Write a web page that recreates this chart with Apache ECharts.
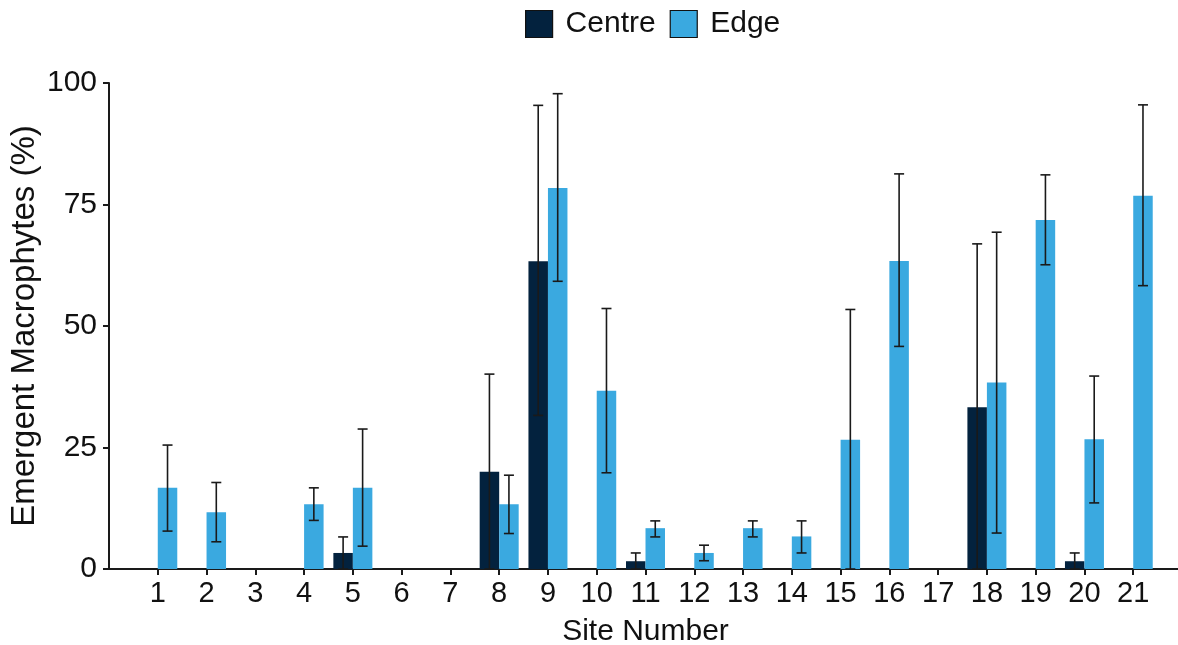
<!DOCTYPE html>
<html>
<head>
<meta charset="utf-8">
<title>Emergent Macrophytes by Site</title>
<script src="https://cdn.jsdelivr.net/npm/echarts@6/dist/echarts.min.js"></script>
<style>
  html, body { margin: 0; padding: 0; background: #ffffff; overflow: hidden; }
  #chart { width: 1178px; height: 645px; }
</style>
</head>
<body>
<div id="chart"></div>
<script>
// Site numbers along the x axis
const sites = ['1','2','3','4','5','6','7','8','9','10','11','12','13','14','15','16','17','18','19','20','21'];

// Mean cover (%) per site
const centreMean = [0, 0, 0, 0, 3.3, 0, 0, 20.0, 63.3, 0, 1.6, 0, 0, 0, 0, 0, 0, 33.3, 0, 1.6, 0];
const edgeMean   = [16.7, 11.7, 0, 13.3, 16.7, 0, 0, 13.3, 78.4, 36.7, 8.4, 3.3, 8.4, 6.7, 26.6, 63.4, 0, 38.4, 71.8, 26.7, 76.8];

// Error bar limits (null where no bar is drawn)
const centreLow  = [null, null, null, null, 0, null, null, 0, 31.6, null, 0, null, null, null, null, null, null, 0, null, 0, null];
const centreHigh = [null, null, null, null, 6.6, null, null, 40.1, 95.4, null, 3.3, null, null, null, null, null, null, 66.9, null, 3.3, null];
const edgeLow    = [7.8, 5.6, null, 10.0, 4.7, null, null, 7.3, 59.2, 19.8, 6.6, 1.7, 6.6, 3.3, 0, 45.8, null, 7.4, 62.6, 13.6, 58.3];
const edgeHigh   = [25.5, 17.8, null, 16.7, 28.8, null, null, 19.3, 97.8, 53.6, 9.9, 4.9, 9.9, 9.9, 53.4, 81.3, null, 69.3, 81.1, 39.7, 95.5];

// y axis ticks
const yMin = 0, yMax = 100, yStep = 25;

const categories = [''].concat(sites, ['']);
const BAR_W = 19.5;
const CAP_W = 10;

function errorData(low, high) {
  const out = [];
  sites.forEach((s, i) => {
    if (low[i] !== null && high[i] !== null) out.push([s, low[i], high[i]]);
  });
  return out;
}

function errorRenderer(shift) {
  return function (params, api) {
    const cat = api.value(0);
    const lo = api.coord([cat, api.value(1)]);
    const hi = api.coord([cat, api.value(2)]);
    const x = lo[0] + shift;
    const style = { stroke: '#1a1a1a', lineWidth: 1.6, fill: null };
    return {
      type: 'group',
      children: [
        { type: 'line', shape: { x1: x, y1: hi[1], x2: x, y2: lo[1] }, style: style },
        { type: 'line', shape: { x1: x - CAP_W / 2, y1: hi[1], x2: x + CAP_W / 2, y2: hi[1] }, style: style },
        { type: 'line', shape: { x1: x - CAP_W / 2, y1: lo[1], x2: x + CAP_W / 2, y2: lo[1] }, style: style }
      ]
    };
  };
}

const textColor = '#111111';
const fontFamily = 'Liberation Sans, Arial, sans-serif';

const chart = echarts.init(document.getElementById('chart'), null, { renderer: 'canvas' });

chart.setOption({
  animation: false,
  backgroundColor: '#ffffff',
  textStyle: { fontFamily: fontFamily },
  legend: {
    top: 4,
    left: 520,
    itemWidth: 27,
    itemHeight: 27,
    itemGap: 14,
    icon: 'rect',
    data: ['Centre', 'Edge'],
    textStyle: { fontSize: 30, color: textColor, fontFamily: fontFamily, padding: [0, 0, 0, 8] },
    itemStyle: { borderColor: '#111111', borderWidth: 1.2 }
  },
  grid: { left: 109, right: -4, top: 83, bottom: 76, containLabel: false, outerBoundsMode: 'none' },
  xAxis: {
    type: 'category',
    data: categories,
    boundaryGap: false,
    name: 'Site Number',
    nameLocation: 'middle',
    nameGap: 48,
    nameMoveOverlap: false,
    nameTextStyle: { fontSize: 30, color: textColor, fontFamily: fontFamily },
    axisLine: { lineStyle: { color: '#1a1a1a', width: 2 } },
    axisTick: {
      length: 6,
      lineStyle: { color: '#1a1a1a', width: 2 },
      interval: function (idx) { return idx > 0 && idx < categories.length - 1; }
    },
    axisLabel: { fontSize: 29, color: textColor, margin: 10, interval: 0, fontFamily: fontFamily },
    splitLine: { show: false }
  },
  yAxis: {
    type: 'value',
    min: yMin,
    max: yMax,
    interval: yStep,
    name: 'Emergent Macrophytes (%)',
    nameLocation: 'middle',
    nameGap: 68,
    nameMoveOverlap: false,
    nameTextStyle: { fontSize: 33, color: textColor, fontFamily: fontFamily },
    axisLine: { show: true, lineStyle: { color: '#1a1a1a', width: 2 } },
    axisTick: { show: true, length: 6, lineStyle: { color: '#1a1a1a', width: 2 } },
    axisLabel: { fontSize: 30, color: textColor, margin: 12, fontFamily: fontFamily },
    splitLine: { show: false }
  },
  series: [
    {
      name: 'Centre',
      type: 'bar',
      barWidth: BAR_W,
      barGap: '0%',
      itemStyle: { color: '#03223e' },
      data: sites.map((s, i) => [s, centreMean[i]])
    },
    {
      name: 'Edge',
      type: 'bar',
      barWidth: BAR_W,
      barGap: '0%',
      itemStyle: { color: '#3aa9e0' },
      data: sites.map((s, i) => [s, edgeMean[i]])
    },
    {
      name: 'Centre error',
      type: 'custom',
      renderItem: errorRenderer(-BAR_W / 2),
      data: errorData(centreLow, centreHigh),
      z: 10,
      silent: true
    },
    {
      name: 'Edge error',
      type: 'custom',
      renderItem: errorRenderer(BAR_W / 2),
      data: errorData(edgeLow, edgeHigh),
      z: 10,
      silent: true
    }
  ]
});
</script>
</body>
</html>
